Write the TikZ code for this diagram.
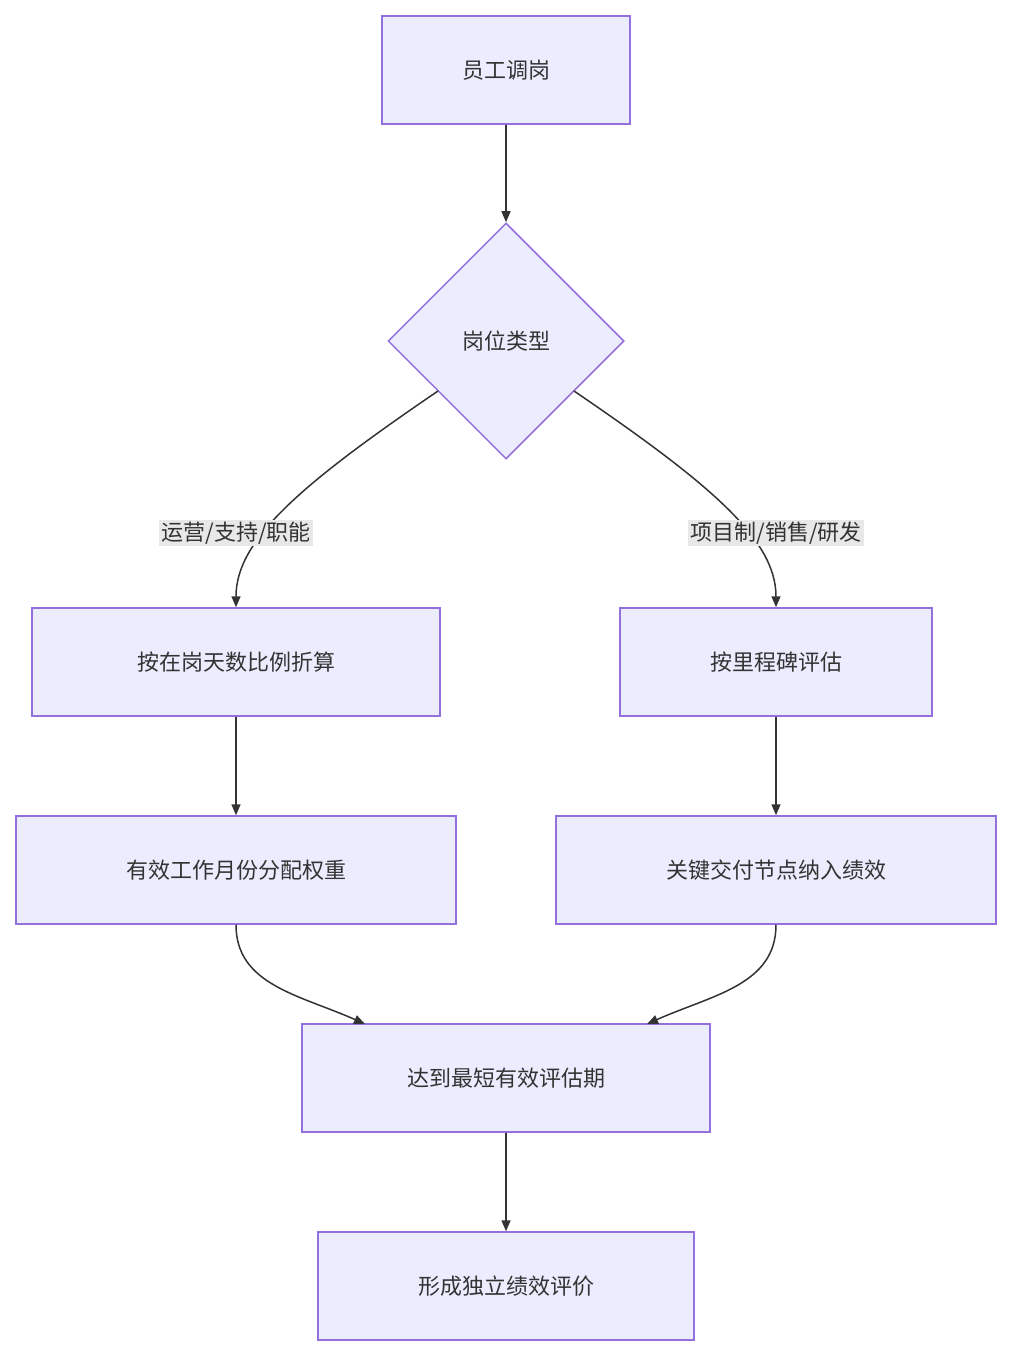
\documentclass[tikz,border=0pt]{standalone}
\usepackage{fontspec}
\setmainfont{Noto Sans CJK SC}
\usetikzlibrary{shapes.geometric,arrows.meta}
\definecolor{boxfill}{HTML}{ECECFF}
\definecolor{boxline}{HTML}{9370DB}
\definecolor{ink}{HTML}{333333}
\definecolor{lblbg}{HTML}{E8E8E8}
\begin{document}
\begin{tikzpicture}[x=1pt,y=-1pt,
box/.style={rectangle, draw=boxline, fill=boxfill, line width=1.5pt, minimum height=108pt, text=ink, font=\fontsize{22}{26}\selectfont},
choice/.style={diamond, draw=boxline, fill=boxfill, line width=1.5pt, minimum size=236pt, inner sep=0pt, text=ink, font=\fontsize{22}{26}\selectfont},
lbl/.style={fill=lblbg, text=ink, inner sep=2pt, font=\fontsize{22}{26}\selectfont},
flow/.style={draw=ink, line width=1.5pt, -{Triangle[length=11pt,width=9pt]}},
]
\useasboundingbox (0,0) rectangle (1012,1356);
\node[box, minimum width=248pt] (start) at (506,70) {员工调岗};
\node[choice] (type) at (506,341) {岗位类型};
\node[box, minimum width=408pt] (days) at (236,662) {按在岗天数比例折算};
\node[box, minimum width=312pt] (mile) at (776,662) {按里程碑评估};
\node[box, minimum width=440pt] (months) at (236,870) {有效工作月份分配权重};
\node[box, minimum width=440pt] (deliver) at (776,870) {关键交付节点纳入绩效};
\node[box, minimum width=408pt] (period) at (506,1078) {达到最短有效评估期};
\node[box, minimum width=376pt] (result) at (506,1286) {形成独立绩效评价};
\coordinate (tl) at (438,391);
\coordinate (tr) at (574,391);
\coordinate (ml) at (365,1024);
\coordinate (mr) at (647,1024);
\draw[flow] (start) -- (type);
\draw[flow] (tl) .. controls (300,485) and (236,540) .. (days.north);
\draw[flow] (tr) .. controls (712,485) and (776,540) .. (mile.north);
\node[lbl] (lblleft) at (236,533) {运营/支持/职能};
\node[lbl] (lblright) at (776,533) {项目制/销售/研发};
\draw[flow] (days) -- (months);
\draw[flow] (mile) -- (deliver);
\draw[flow] (months.south) .. controls (236,985) and (300,995) .. (ml);
\draw[flow] (deliver.south) .. controls (776,985) and (712,995) .. (mr);
\draw[flow] (period) -- (result);
\end{tikzpicture}
\end{document}
